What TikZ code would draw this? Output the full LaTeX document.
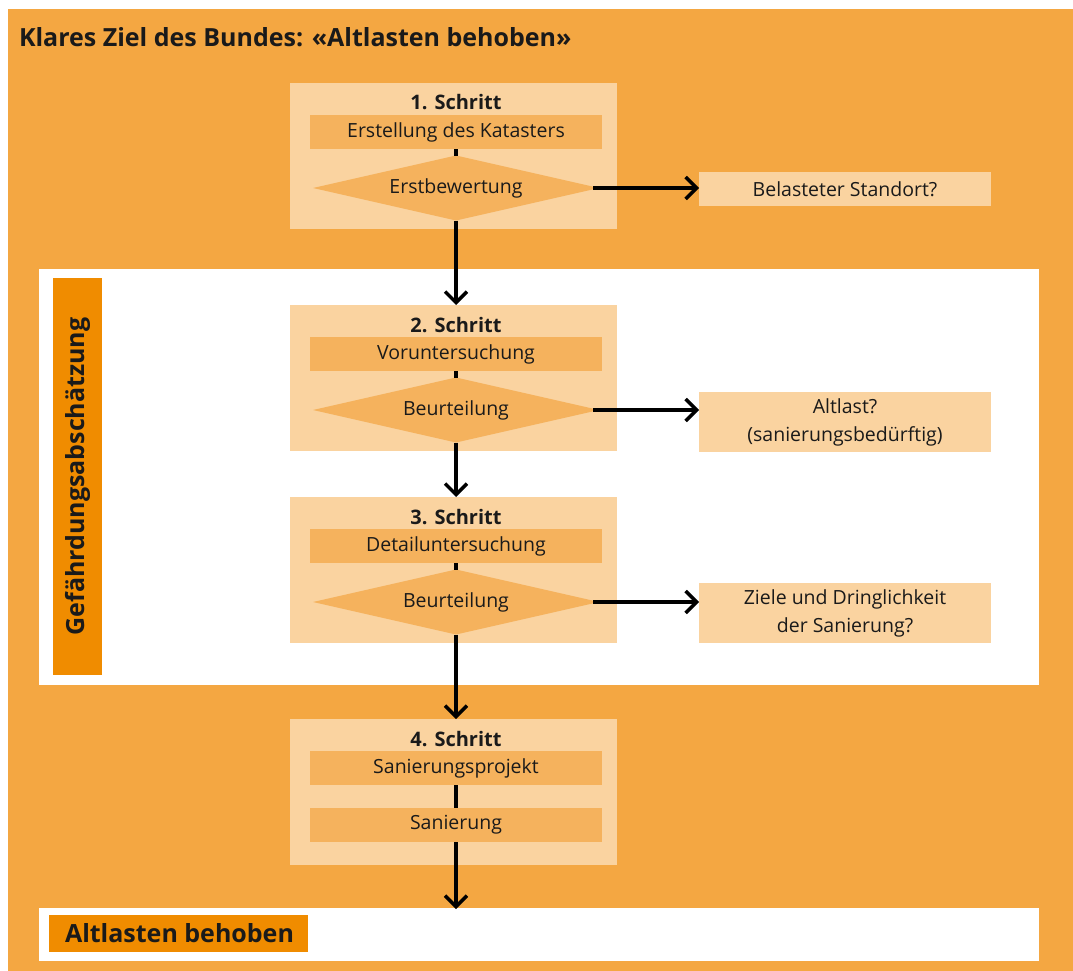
\documentclass[tikz,border=0pt]{standalone}
\usepackage{fontspec}
\setmainfont{Open Sans}
\usetikzlibrary{arrows.meta,shapes.geometric}
\definecolor{outer}{HTML}{F4A742}
\definecolor{light}{HTML}{FAD3A0}
\definecolor{mid}{HTML}{F5B25D}
\definecolor{dark}{HTML}{F08C00}
\definecolor{ink}{HTML}{1A1A1A}
\begin{document}
\begin{tikzpicture}[x=1pt,y=-1pt,
  every node/.style={inner sep=0pt, outer sep=0pt, text=ink},
  bodyfont/.style={font=\fontsize{19.5}{28}\selectfont},
  stepbox/.style={fill=light, minimum width=327pt, minimum height=146pt, anchor=north west},
  steptitle/.style={anchor=base, font=\bfseries\fontsize{20}{24}\selectfont},
  subbox/.style={fill=mid, minimum width=292pt, minimum height=34pt, anchor=north, bodyfont},
  dia/.style={diamond, fill=mid, minimum width=286pt, minimum height=65pt, aspect=4.4, bodyfont},
  resbox/.style={fill=light, minimum width=292pt, anchor=north, align=center, bodyfont},
  conn/.style={line width=3.5pt, draw=black},
  arr/.style={conn, -{Straight Barb[length=11pt,width=22pt,line width=3.5pt]}},
  bigbold/.style={font=\bfseries\fontsize{25}{30}\selectfont}
]
\useasboundingbox (0,0) rectangle (1073,971);
\fill[outer] (8,9) rectangle (1073,971);
\fill[white] (39,269) rectangle (1039,685);
\fill[white] (39,908) rectangle (1039,961);

\node[bigbold, anchor=base west] (title) at (19,47) {Klares Ziel des Bundes: «Altlasten behoben»};

% vertical label
\node[fill=dark, minimum width=397pt, minimum height=49pt, rotate=90, bigbold] (lab) at (77.5,476.5) {Gefährdungsabschätzung};

% step 1
\node[stepbox] (st1) at (290,83) {};
\node[steptitle] (t1) at (456,110) {1. Schritt};
\node[subbox] (e1) at (456,115) {Erstellung des Katasters};
\node[dia] (d1) at (456,188) {Erstbewertung};
\node[resbox, minimum height=34pt] (b1) at (845,172) {Belasteter Standort?};

% step 2
\node[stepbox] (st2) at (290,305) {};
\node[steptitle] (t2) at (456,332) {2. Schritt};
\node[subbox] (e2) at (456,337) {Voruntersuchung};
\node[dia] (d2) at (456,410) {Beurteilung};
\node[resbox, minimum height=60pt] (b2) at (845,392) {Altlast?\\(sanierungsbedürftig)};

% step 3
\node[stepbox] (st3) at (290,497) {};
\node[steptitle] (t3) at (456,524) {3. Schritt};
\node[subbox] (e3) at (456,529) {Detailuntersuchung};
\node[dia] (d3) at (456,602) {Beurteilung};
\node[resbox, minimum height=60pt] (b3) at (845,583) {Ziele und Dringlichkeit\\der Sanierung?};

% step 4
\node[stepbox] (st4) at (290,719) {};
\node[steptitle] (t4) at (456,746) {4. Schritt};
\node[subbox] (e4) at (456,751) {Sanierungsprojekt};
\node[subbox] (s4) at (456,808) {Sanierung};

% final
\node[fill=dark, minimum width=259pt, minimum height=37pt, anchor=north west] (fin) at (49,915) {};
\node[bigbold, anchor=base west] (fint) at (65,942) {Altlasten behoben};
\coordinate (endp) at (456,909);

% connectors
\draw[conn] (e1.south) -- (d1.north);
\draw[conn] (e2.south) -- (d2.north);
\draw[conn] (e3.south) -- (d3.north);
\draw[conn] (e4.south) -- (s4.north);
\draw[arr] ([xshift=-6pt]d1.east) -- (d1.east -| b1.west);
\draw[arr] ([xshift=-6pt]d2.east) -- (d2.east -| b2.west);
\draw[arr] ([xshift=-6pt]d3.east) -- (d3.east -| b3.west);
\draw[arr] (d1.south) -- (d1.south |- st2.north);
\draw[arr] (d2.south) -- (d2.south |- st3.north);
\draw[arr] (d3.south) -- (d3.south |- st4.north);
\draw[arr] (s4.south) -- (endp);
\end{tikzpicture}
\end{document}
